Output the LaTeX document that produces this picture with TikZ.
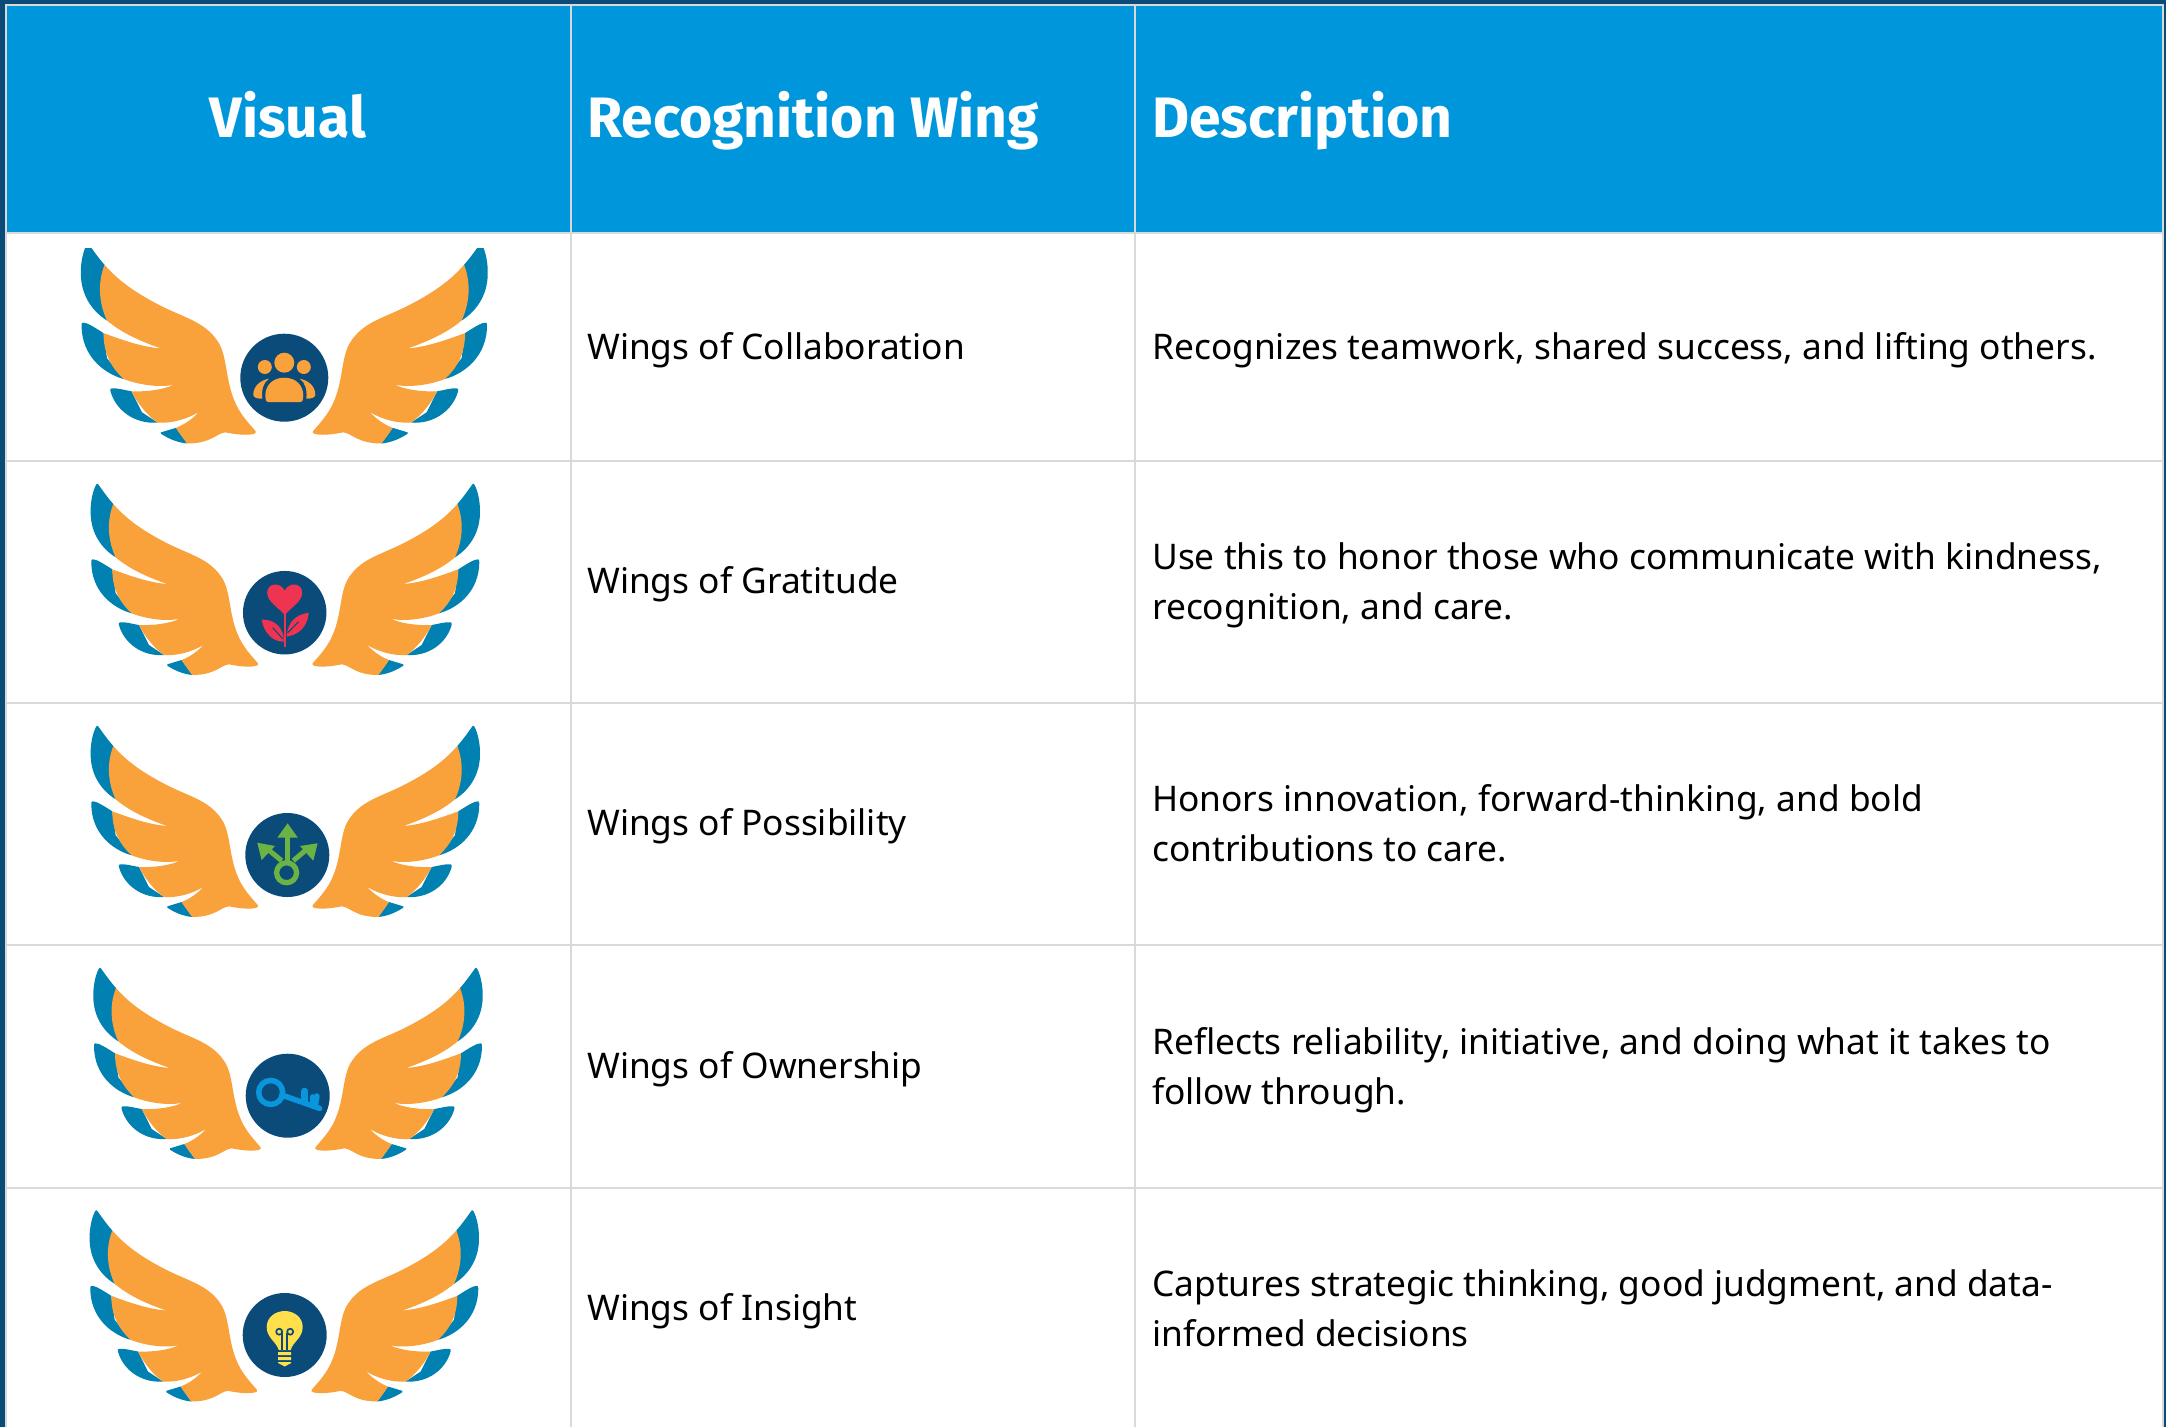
\documentclass[tikz,border=0pt]{standalone}
\usepackage{fontspec}
\setmainfont{Noto Sans}
\newfontfamily\hdrfont{Fira Sans}
\definecolor{hdr}{HTML}{0096DB}
\definecolor{frame}{HTML}{0B4B7A}
\definecolor{gridc}{HTML}{D9D9D9}
\definecolor{wingo}{HTML}{F9A23B}
\definecolor{wingt}{HTML}{0081B1}
\definecolor{navy}{HTML}{0B4B7A}
\definecolor{heartc}{HTML}{EF3452}
\definecolor{greenc}{HTML}{6BB344}
\definecolor{keyc}{HTML}{0A96DC}
\definecolor{bulbc}{HTML}{FFE04B}
\tikzset{
 hdrtext/.style={text=white,font=\hdrfont\fontsize{57}{62}\selectfont\bfseries,inner sep=0pt,anchor=base},
 hdrleft/.style={hdrtext,anchor=base west},
 bodytext/.style={text=black,font=\fontsize{35.3}{50}\selectfont,inner sep=0pt,anchor=base west,align=left},
 grid/.style={draw=gridc,line width=2pt},
 disc/.style={circle,fill=navy,draw=none,inner sep=0pt,minimum size=#1},
}
\newcommand{\wingshape}{%
 \fill[wingt] (112,62) .. controls (125,80) and (140,102) .. (158,122) -- (147,190) -- (165,282) .. controls (115,250) and (88,200) .. (90,140) .. controls (90,110) and (98,80) .. (106,65) .. controls (108,61) and (110,60) .. (112,62) -- cycle;
 \fill[wingt] (95,288) .. controls (105,286) and (130,302) .. (155,318) -- (165,390) -- (213,450) .. controls (150,432) and (93,380) .. (92,298) .. controls (92,292) and (92,289) .. (95,288) -- cycle;
 \fill[wingt] (178,477) .. controls (195,475) and (215,482) .. (235,485) -- (265,545) -- (310,575) .. controls (245,580) and (190,540) .. (175,485) .. controls (174,480) and (175,478) .. (178,477) -- cycle;
 \fill[wingt] (320,603) -- (363,590) -- (395,635) .. controls (365,632) and (340,620) .. (320,607) -- cycle;
 \fill[wingo] (158,122) .. controls (200,170) and (250,205) .. (330,245) .. controls (400,278) and (450,290) .. (485,345) .. controls (510,385) and (505,450) .. (530,510) .. controls (545,550) and (575,580) .. (592,600) .. controls (594,604) and (592,606) .. (585,608) .. controls (560,613) and (525,607) .. (505,603) .. controls (480,605) and (465,635) .. (395,635) .. controls (380,615) and (370,602) .. (363,590) .. controls (390,580) and (415,560) .. (428,545) .. controls (395,565) and (350,578) .. (310,575) .. controls (280,555) and (250,515) .. (235,485) .. controls (280,487) and (330,480) .. (357,466) .. controls (320,475) and (260,468) .. (213,450) .. controls (180,420) and (155,380) .. (155,318) .. controls (210,338) and (265,358) .. (320,362) .. controls (270,345) and (210,320) .. (165,282) .. controls (145,240) and (135,180) .. (158,122) -- cycle;
}
% #1 axis x, #2 bottom y, #3 scale
\newcommand{\wingpair}[3]{%
 \begin{scope}[shift={(#1,#2)},x=#3pt/3,y=-#3pt/3]
  \begin{scope}[shift={(-674,-635)}]\wingshape\end{scope}
 \end{scope}
 \begin{scope}[shift={(#1,#2)},x=-#3pt/3,y=-#3pt/3]
  \begin{scope}[shift={(-674,-635)}]\wingshape\end{scope}
 \end{scope}}
\begin{document}
\begin{tikzpicture}[x=1pt,y=-1pt]
\useasboundingbox (0,0) rectangle (2166,1427);
\fill[white] (0,0) rectangle (2166,1427);
\fill[frame] (0,0) rectangle (2166,5);
\fill[frame] (0,0) rectangle (5,1427);
\fill[frame] (2163,0) rectangle (2166,1427);
\fill[hdr] (6,6) rectangle (2162,232);
% grid
\draw[grid] (5.5,5) -- (5.5,1427);
\draw[grid] (570.5,5) -- (570.5,1427);
\draw[grid] (1134.5,5) -- (1134.5,1427);
\draw[grid] (2162.5,5) -- (2162.5,1427);
\draw[grid] (5,5) -- (2163.5,5);
\draw[grid] (5,232.5) -- (2163.5,232.5);
\draw[grid] (5,460.5) -- (2163.5,460.5);
\draw[grid] (5,702.5) -- (2163.5,702.5);
\draw[grid] (5,945) -- (2163.5,945);
\draw[grid] (5,1187.5) -- (2163.5,1187.5);
% header
\node[hdrtext] (hvisual) at (288,137.5) {Visual};
\node[hdrleft] (hwing) at (587,137.5) {Recognition Wing};
\node[hdrleft] (hdesc) at (1152,137.5) {Description};
% wings
\begin{scope}
 \clip (60,248) rectangle (510,450);
 \wingpair{284.3}{443.5}{1.045}
\end{scope}
\wingpair{285.3}{675}{1}
\wingpair{285.3}{917}{1}
\wingpair{288}{1159}{1}
\wingpair{284.3}{1401.5}{1}
% discs
\node[disc=88pt] (d1) at (284.3,377.7) {};
\node[disc=83.5pt] (d2) at (284.7,612.7) {};
\node[disc=84pt] (d3) at (287.3,855) {};
\node[disc=84pt] (d4) at (287.7,1095.7) {};
\node[disc=84pt] (d5) at (284.7,1335) {};
% people icon
\begin{scope}[shift={(d1.center)}]
 \fill[wingo] (0,-15) circle (10);
 \fill[wingo] (-19.5,-10.7) circle (7) (19.5,-10.7) circle (7);
 \fill[wingo] (-15.5,1) .. controls (-25,3) and (-31,9) .. (-31,17) .. controls (-31,20) and (-27,21) .. (-22,21) .. controls (-23,12) and (-21,5) .. (-15.5,1) -- cycle;
 \fill[wingo] (15.5,1) .. controls (25,3) and (31,9) .. (31,17) .. controls (31,20) and (27,21) .. (22,21) .. controls (23,12) and (21,5) .. (15.5,1) -- cycle;
 \fill[wingo] (-15,24.5) .. controls (-19,24.5) and (-19,21) .. (-19,18) .. controls (-19,8) and (-12,0) .. (0,0) .. controls (12,0) and (19,8) .. (19,18) .. controls (19,21) and (19,24.5) .. (15,24.5) -- cycle;
\end{scope}
% heart flower icon
\begin{scope}[shift={(d2.center)}]
 \fill[heartc] (0,2.3) .. controls (-6,-5) and (-17.5,-11) .. (-17.5,-20) .. controls (-17.5,-30) and (-4,-31) .. (0,-22) .. controls (4,-31) and (17.5,-30) .. (17.5,-20) .. controls (17.5,-11) and (6,-5) .. (0,2.3) -- cycle;
 \fill[heartc] (-1,0) rectangle (1,34);
 \fill[heartc] (-23,7) .. controls (-10,6) and (0,16) .. (-1,29) .. controls (-12,29) and (-21,20) .. (-23,7) -- cycle;
 \fill[heartc] (24,0) .. controls (12,2) and (3,8) .. (2,24) .. controls (14,22) and (23,14) .. (24,0) -- cycle;
 \draw[navy,line width=1pt] (-12,15) -- (-2,26) (14,9) -- (3,20);
\end{scope}
% arrows icon
\begin{scope}[shift={(d3.center)},greenc]
 \draw[line width=5.3pt] (-0.7,17.7) circle (10);
 \draw[line width=5pt] (0.3,8) -- (0.3,-20);
 \draw[line width=5pt] (-5.7,5.7) -- (-21,-7);
 \draw[line width=5pt] (6,5.7) -- (21,-7);
 \fill (0.3,-31.7) -- (10.6,-17.3) -- (-10,-17.3) -- cycle;
 \fill (-30,-12.3) -- (-12.3,-9) -- (-25.7,5) -- cycle;
 \fill (30.3,-11.7) -- (12.7,-9) -- (26,5.7) -- cycle;
\end{scope}
% key icon
\begin{scope}[shift={(d4.center)}]
 \draw[keyc,line width=5.5pt] (-17,-3.3) circle (12);
 \draw[keyc,line width=5.5pt,line cap=round] (-6,-0.7) -- (32,12.7);
 \draw[keyc,line width=7pt,line cap=round] (17,-4.5) -- (17,6);
 \draw[keyc,line width=6pt,line cap=round] (29,0.5) -- (27.5,9.3);
 \draw[keyc,line width=5pt,line cap=round] (24.5,1) -- (24.5,8);
\end{scope}
% bulb icon
\begin{scope}[shift={(d5.center)}]
 \fill[bulbc] (-6,15) .. controls (-8,7) and (-18,3) .. (-18,-8) .. controls (-18,-18) and (-9,-24) .. (0,-24) .. controls (9,-24) and (18,-18) .. (18,-8) .. controls (18,3) and (8,7) .. (6,15) -- cycle;
 \draw[navy,line width=1.7pt] (-5.5,-3.3) circle (3) (5.5,-3.3) circle (3);
 \draw[navy,line width=1.7pt] (-2.5,-2) -- (-2.5,15) (2.5,-2) -- (2.5,15);
 \fill[bulbc] (-6.5,17) rectangle (6.5,20) (-6.5,22) rectangle (6.5,25) (-6.5,27) -- (6.5,27) -- (6.5,28) -- (0,31.5) -- (-6.5,28) -- cycle;
\end{scope}
% wing names
\node[bodytext] (w1) at (587,359) {Wings of Collaboration};
\node[bodytext] (w2) at (587,593) {Wings of Gratitude};
\node[bodytext] (w3) at (587,835) {Wings of Possibility};
\node[bodytext] (w4) at (587,1078) {Wings of Ownership};
\node[bodytext] (w5) at (587,1320) {Wings of Insight};
% descriptions
\node[bodytext] (t1) at (1152,359) {Recognizes teamwork, shared success, and lifting others.};
\node[bodytext] (t2) at (1152,619) {Use this to honor those who communicate with kindness,\\recognition, and care.};
\node[bodytext] (t3) at (1152,861) {Honors innovation, forward-thinking, and bold\\contributions to care.};
\node[bodytext] (t4) at (1152,1104) {Reflects reliability, initiative, and doing what it takes to\\follow through.};
\node[bodytext] (t5) at (1152,1346) {Captures strategic thinking, good judgment, and data-\\informed decisions};
\end{tikzpicture}
\end{document}
